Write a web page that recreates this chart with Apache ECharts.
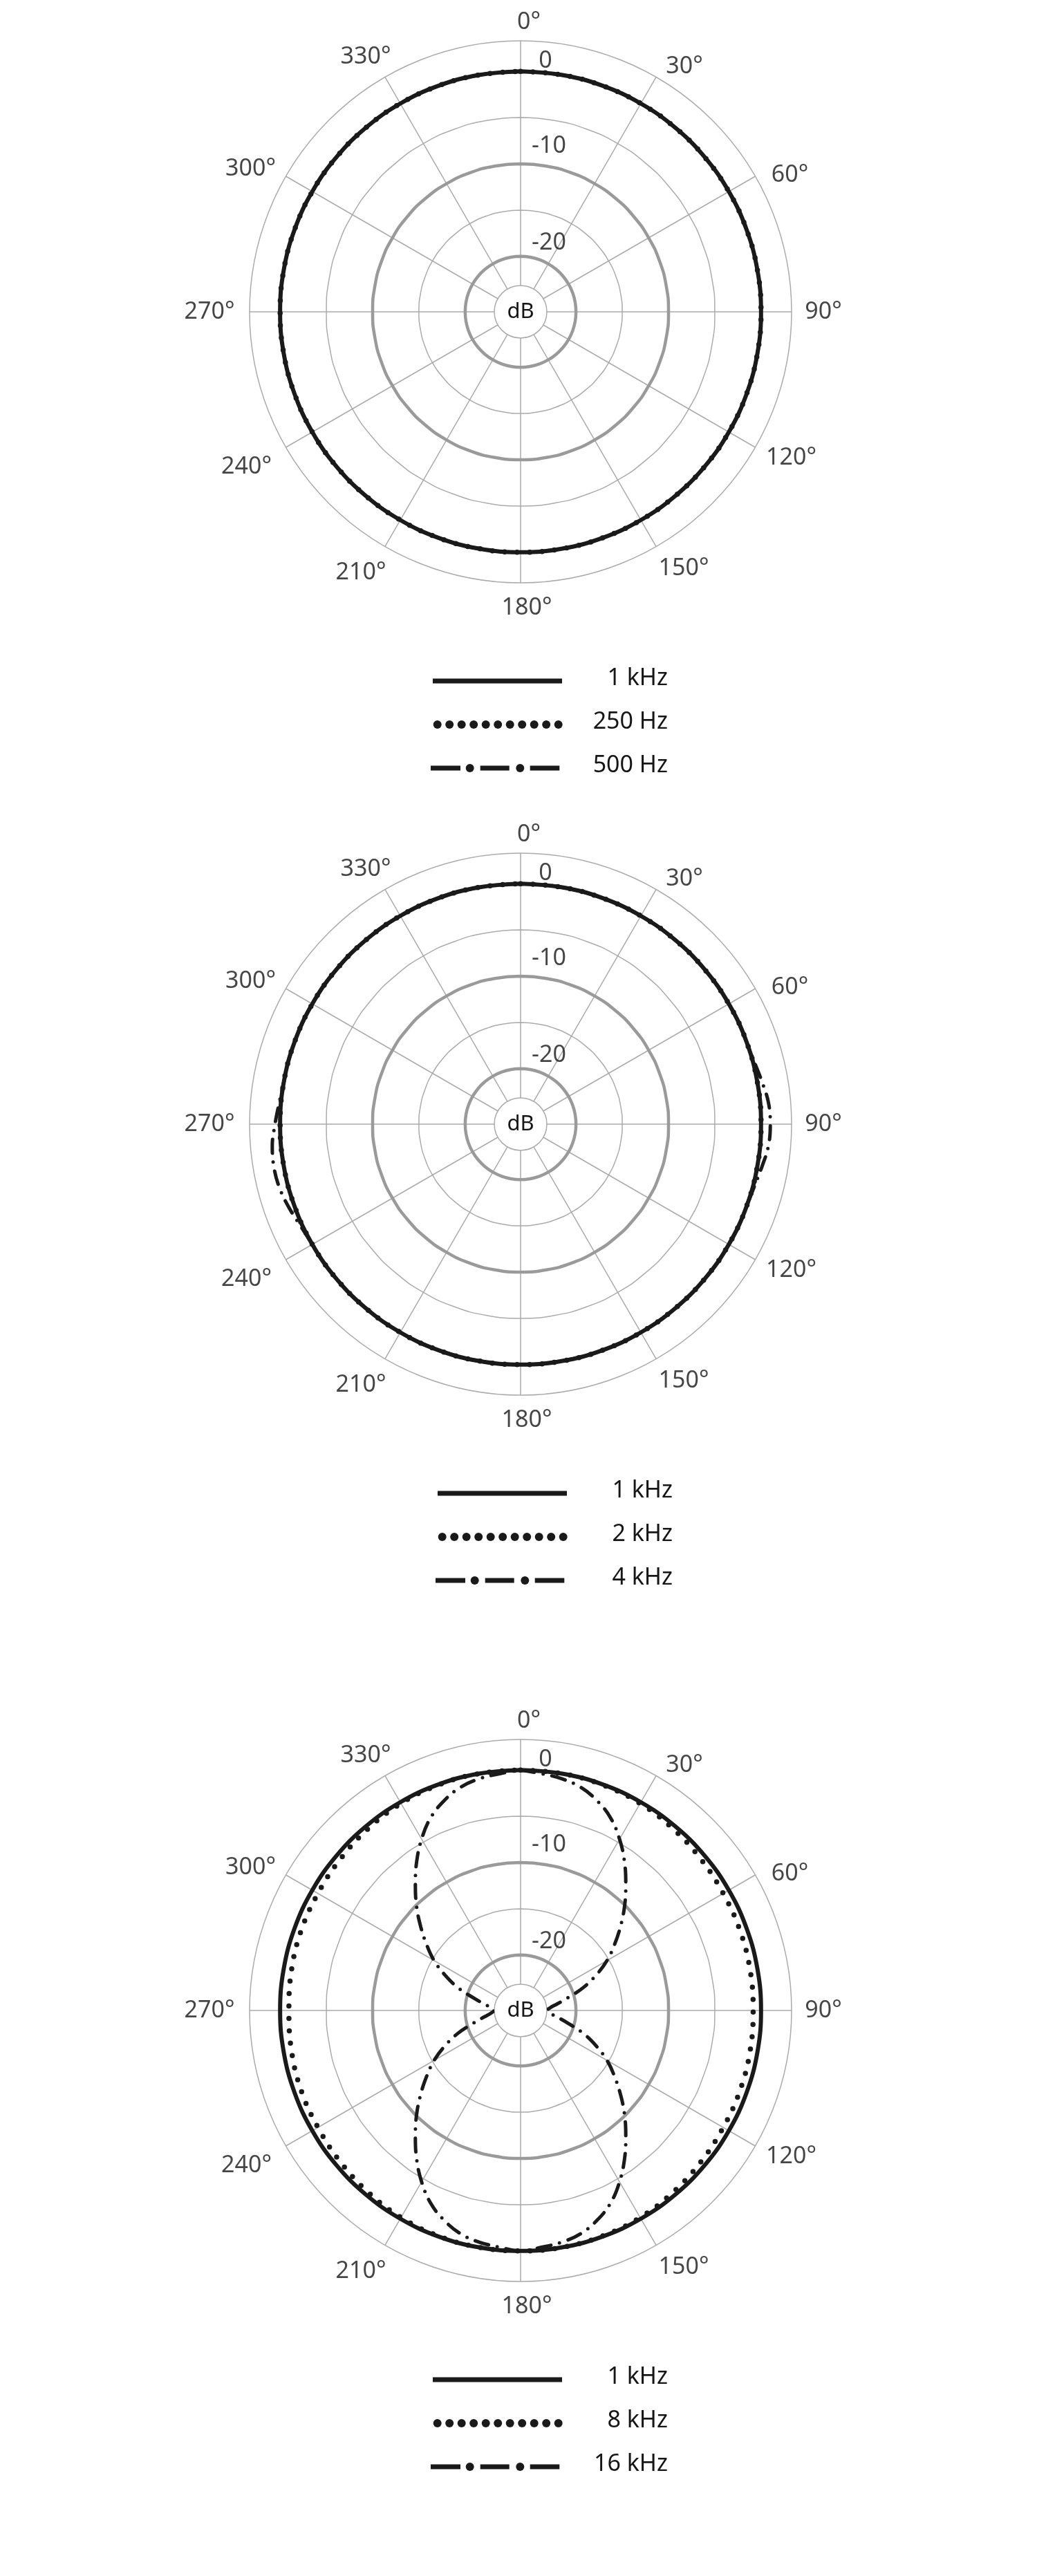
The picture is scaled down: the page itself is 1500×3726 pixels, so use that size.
<!DOCTYPE html>
<html>
<head>
<meta charset="utf-8">
<title>Polar pattern</title>
<script src="https://cdn.jsdelivr.net/npm/echarts@6/dist/echarts.min.js"></script>
<style>
    html, body { margin: 0; padding: 0; background: #fff; }
    #main { width: 1500px; height: 3726px; }
</style>
</head>
<body>
<div id="main"></div>
<script>
// angle steps used by the curves (degrees, clockwise from 0 at top)
var angles10 = [0, 10, 20, 30, 40, 50, 60, 70, 80, 90, 100, 110, 120, 130, 140, 150, 160, 170, 180,
    190, 200, 210, 220, 230, 240, 250, 260, 270, 280, 290, 300, 310, 320, 330, 340, 350, 360];
var angles5 = [0, 5, 10, 15, 20, 25, 30, 35, 40, 45, 50, 55, 60, 65, 70, 75, 80, 85, 90,
    95, 100, 105, 110, 115, 120, 125, 130, 135, 140, 145, 150, 155, 160, 165, 170, 175, 180,
    185, 190, 195, 200, 205, 210, 215, 220, 225, 230, 235, 240, 245, 250, 255, 260, 265, 270,
    275, 280, 285, 290, 295, 300, 305, 310, 315, 320, 325, 330, 335, 340, 345, 350, 355, 360];

var angleTicks = [0, 30, 60, 90, 120, 150, 180, 210, 240, 270, 300, 330];
var dbTicks = [0, -10, -20];
var ringThin = [-5, -15];
var ringThick = [-10, -20];

// chart 1 : 1 kHz / 250 Hz / 500 Hz  (angles10)
var c1_1k = [0, 0, 0, 0, 0, 0, 0, 0, 0, 0, 0, 0, 0, 0, 0, 0, 0, 0, 0, 0, 0, 0, 0, 0, 0, 0, 0, 0, 0, 0, 0, 0, 0, 0, 0, 0, 0];
var c1_250 = [0, 0, 0, 0, 0, 0, 0, 0, 0, 0, 0, 0, 0, 0, 0, 0, 0, 0, 0, 0, 0, 0, 0, 0, 0, 0, 0, 0, 0, 0, 0, 0, 0, 0, 0, 0, 0];
var c1_500 = [0, 0, 0, 0, 0, 0, 0, 0, 0, 0, 0, 0, 0, 0, 0, 0, 0, 0, 0, 0, 0, 0, 0, 0, 0, 0, 0, 0, 0, 0, 0, 0, 0, 0, 0, 0, 0];

// chart 2 : 1 kHz / 2 kHz (angles10), 4 kHz (angles5)
var c2_1k = [0, 0, 0, 0, 0, 0, 0, 0, 0, 0, 0, 0, 0, 0, 0, 0, 0, 0, 0, 0, 0, 0, 0, 0, 0, 0, 0, 0, 0, 0, 0, 0, 0, 0, 0, 0, 0];
var c2_2k = [0, 0, 0, 0, 0, 0, 0, 0, 0, 0, 0, 0, 0, 0, 0, 0, 0, 0, 0, 0, 0, 0, 0, 0, 0, 0, 0, 0, 0, 0, 0, 0, 0, 0, 0, 0, 0];
var c2_4k = [0, 0, 0, 0, 0, 0, 0, 0, 0, 0, 0, 0, 0, 0,
    0, 0.15, 0.5, 0.9, 1.0, 0.9, 0.5, 0.15, 0,
    0, 0, 0, 0, 0, 0, 0, 0, 0, 0, 0, 0, 0, 0, 0, 0, 0, 0, 0, 0, 0, 0, 0, 0, 0,
    0, 0.2, 0.6, 0.95, 1.07, 0.95, 0.55, 0.2, 0,
    0, 0, 0, 0, 0, 0, 0, 0, 0, 0, 0, 0, 0, 0];

// chart 3 : 1 kHz / 8 kHz (angles10), 16 kHz (angles5)
var c3_1k = [0, 0, 0, 0, 0, 0, 0, 0, 0, 0, 0, 0, 0, 0, 0, 0, 0, 0, 0, 0, 0, 0, 0, 0, 0, 0, 0, 0, 0, 0, 0, 0, 0, 0, 0, 0, 0];
var c3_8k = [0, 0, -0.05, -0.15, -0.35, -0.55, -0.7, -0.75, -0.8, -0.85, -0.8, -0.75, -0.7, -0.55, -0.35, -0.15, -0.05, 0, 0,
    0, -0.05, -0.15, -0.35, -0.55, -0.7, -0.75, -0.85, -0.95, -0.85, -0.75, -0.7, -0.55, -0.35, -0.15, -0.05, 0, 0];
var c3_16k = [0, -0.3, -0.55, -1.0, -1.85, -3.0, -4.6, -6.4, -8.3, -10.1, -11.9, -13.6, -15.2, -17.0, -18.8, -20.7, -22.0, -22.8, -23.1,
    -22.8, -22.0, -20.7, -18.8, -17.0, -15.2, -13.6, -11.9, -10.1, -8.3, -6.4, -4.6, -3.0, -1.85, -1.0, -0.55, -0.3, 0,
    -0.3, -0.55, -1.0, -1.85, -3.0, -4.6, -6.4, -8.3, -10.1, -11.9, -13.6, -15.2, -17.0, -18.8, -20.7, -22.0, -22.8, -23.1,
    -22.8, -22.0, -20.7, -18.8, -17.0, -15.2, -13.6, -11.9, -10.1, -8.3, -6.4, -4.6, -3.0, -1.85, -1.0, -0.55, -0.3, 0];

var legendNames = [
    ['1 kHz', '250 Hz', '500 Hz'],
    ['1 kHz', '2 kHz', '4 kHz'],
    ['1 kHz', '8 kHz', '16 kHz']
];

var charts = [
    { center: [753, 451], legendX: 626, curves: [[angles10, c1_1k], [angles10, c1_250], [angles10, c1_500]] },
    { center: [753, 1626], legendX: 633, curves: [[angles10, c2_1k], [angles10, c2_2k], [angles5, c2_4k]] },
    { center: [753, 2908], legendX: 626, curves: [[angles10, c3_1k], [angles10, c3_8k], [angles5, c3_16k]] }
];

var FONT = '"Noto Sans", sans-serif';
var INK = '#1a1a1a';
var TEXT = '#161616';
var GRID = '#ababab';
var RMIN = -23.15, RMAX = 3.3;

// label offsets (px) from the end of each spoke, in angleTicks order
var angleLabelOffsets = [
    [12, -27], [41, -15], [50, -2], [46, 0], [52, 15], [40, 32],
    [9, 36], [-35, 38], [-57, 28], [-58, 0], [-51, -11], [-28, -29]
];
var dbLabelOffsets = [[36, -15], [41, -26], [41, -20]];

// solid, dotted, dash-dot
var curveStyles = [
    { width: 6, type: 'solid', cap: 'butt', z: 6 },
    { width: 7.5, type: [0, 18], cap: 'round', z: 4 },
    { width: 5, type: [20, 13, 0, 13], cap: 'round', z: 5 }
];

var labelStyle = {
    show: true,
    position: 'inside',
    color: TEXT,
    fontFamily: FONT,
    fontSize: 34,
    align: 'center',
    verticalAlign: 'middle'
};

var polar = [], angleAxis = [], radiusAxis = [], series = [], graphic = [];

charts.forEach(function (chart, i) {
    polar.push({ center: chart.center, radius: [38, 392] });

    angleAxis.push({
        polarIndex: i,
        type: 'value',
        min: 0,
        max: 360,
        interval: 30,
        startAngle: 90,
        clockwise: true,
        axisLine: { lineStyle: { color: GRID, width: 1.5 } },
        axisTick: { show: false },
        axisLabel: { show: false },
        splitLine: { lineStyle: { color: GRID, width: 1.5 } }
    });

    radiusAxis.push({
        polarIndex: i,
        type: 'value',
        min: RMIN,
        max: RMAX,
        axisLine: { show: false },
        axisTick: { show: false },
        axisLabel: { show: false },
        splitLine: { show: false }
    });

    ringThin.concat(ringThick).forEach(function (lvl) {
        var thick = ringThick.indexOf(lvl) >= 0;
        series.push({
            type: 'line',
            coordinateSystem: 'polar',
            polarIndex: i,
            silent: true,
            symbol: 'none',
            smooth: true,
            z: 2,
            lineStyle: { color: thick ? '#9a9a9a' : GRID, width: thick ? 4.5 : 1.5 },
            data: angles10.map(function (a) { return [lvl, a]; })
        });
    });

    chart.curves.forEach(function (curve, k) {
        var st = curveStyles[k];
        series.push({
            name: legendNames[i][k],
            type: 'line',
            coordinateSystem: 'polar',
            polarIndex: i,
            symbol: 'none',
            smooth: 0.4,
            z: st.z,
            lineStyle: { color: INK, width: st.width, type: st.type, cap: st.cap },
            data: curve[0].map(function (a, j) { return [curve[1][j], a]; })
        });
    });

    // angle labels, anchored at the outer end of each spoke
    series.push({
        type: 'scatter',
        coordinateSystem: 'polar',
        polarIndex: i,
        clip: false,
        silent: true,
        symbolSize: 0,
        z: 8,
        label: labelStyle,
        data: angleTicks.map(function (a, j) {
            return {
                value: [RMAX, a],
                label: { formatter: a + '°', offset: angleLabelOffsets[j] }
            };
        })
    });

    // dB level labels
    series.push({
        type: 'scatter',
        coordinateSystem: 'polar',
        polarIndex: i,
        clip: false,
        silent: true,
        symbolSize: 0,
        z: 8,
        label: labelStyle,
        data: dbTicks.map(function (v, j) {
            return {
                value: [v, 0],
                label: { formatter: String(v), offset: dbLabelOffsets[j] }
            };
        })
    });

    graphic.push({
        type: 'text',
        x: chart.center[0],
        y: chart.center[1],
        silent: true,
        style: { text: 'dB', fontSize: 31, fontFamily: FONT, fill: TEXT, align: 'center', verticalAlign: 'middle' }
    });

    // legend block under each chart
    var x0 = chart.legendX;
    var rows = [chart.center[1] + 534, chart.center[1] + 597, chart.center[1] + 660];
    var children = [];

    children.push({ type: 'rect', shape: { x: x0, y: rows[0] - 3.5, width: 187, height: 7 }, style: { fill: INK } });

    for (var d = 0; d < 11; d++) {
        children.push({ type: 'circle', shape: { cx: x0 + 6.7 + d * 17.5, cy: rows[1], r: 6 }, style: { fill: INK } });
    }

    [[-3, 43], [68.7, 42], [140.7, 42.6]].forEach(function (seg) {
        children.push({ type: 'rect', shape: { x: x0 + seg[0], y: rows[2] - 3.5, width: seg[1], height: 7 }, style: { fill: INK } });
    });
    [53.7, 126.3].forEach(function (cx) {
        children.push({ type: 'circle', shape: { cx: x0 + cx, cy: rows[2], r: 6 }, style: { fill: INK } });
    });

    legendNames[i].forEach(function (name, k) {
        children.push({
            type: 'text',
            x: x0 + 340,
            y: rows[k] - 4,
            style: { text: name, fontSize: 34, fontFamily: FONT, fill: TEXT, align: 'right', verticalAlign: 'middle' }
        });
    });

    graphic.push({ type: 'group', silent: true, children: children });
});

var myChart = echarts.init(document.getElementById('main'));

myChart.setOption({
    backgroundColor: '#fff',
    animation: false,
    polar: polar,
    angleAxis: angleAxis,
    radiusAxis: radiusAxis,
    series: series,
    graphic: graphic
});
</script>
</body>
</html>
